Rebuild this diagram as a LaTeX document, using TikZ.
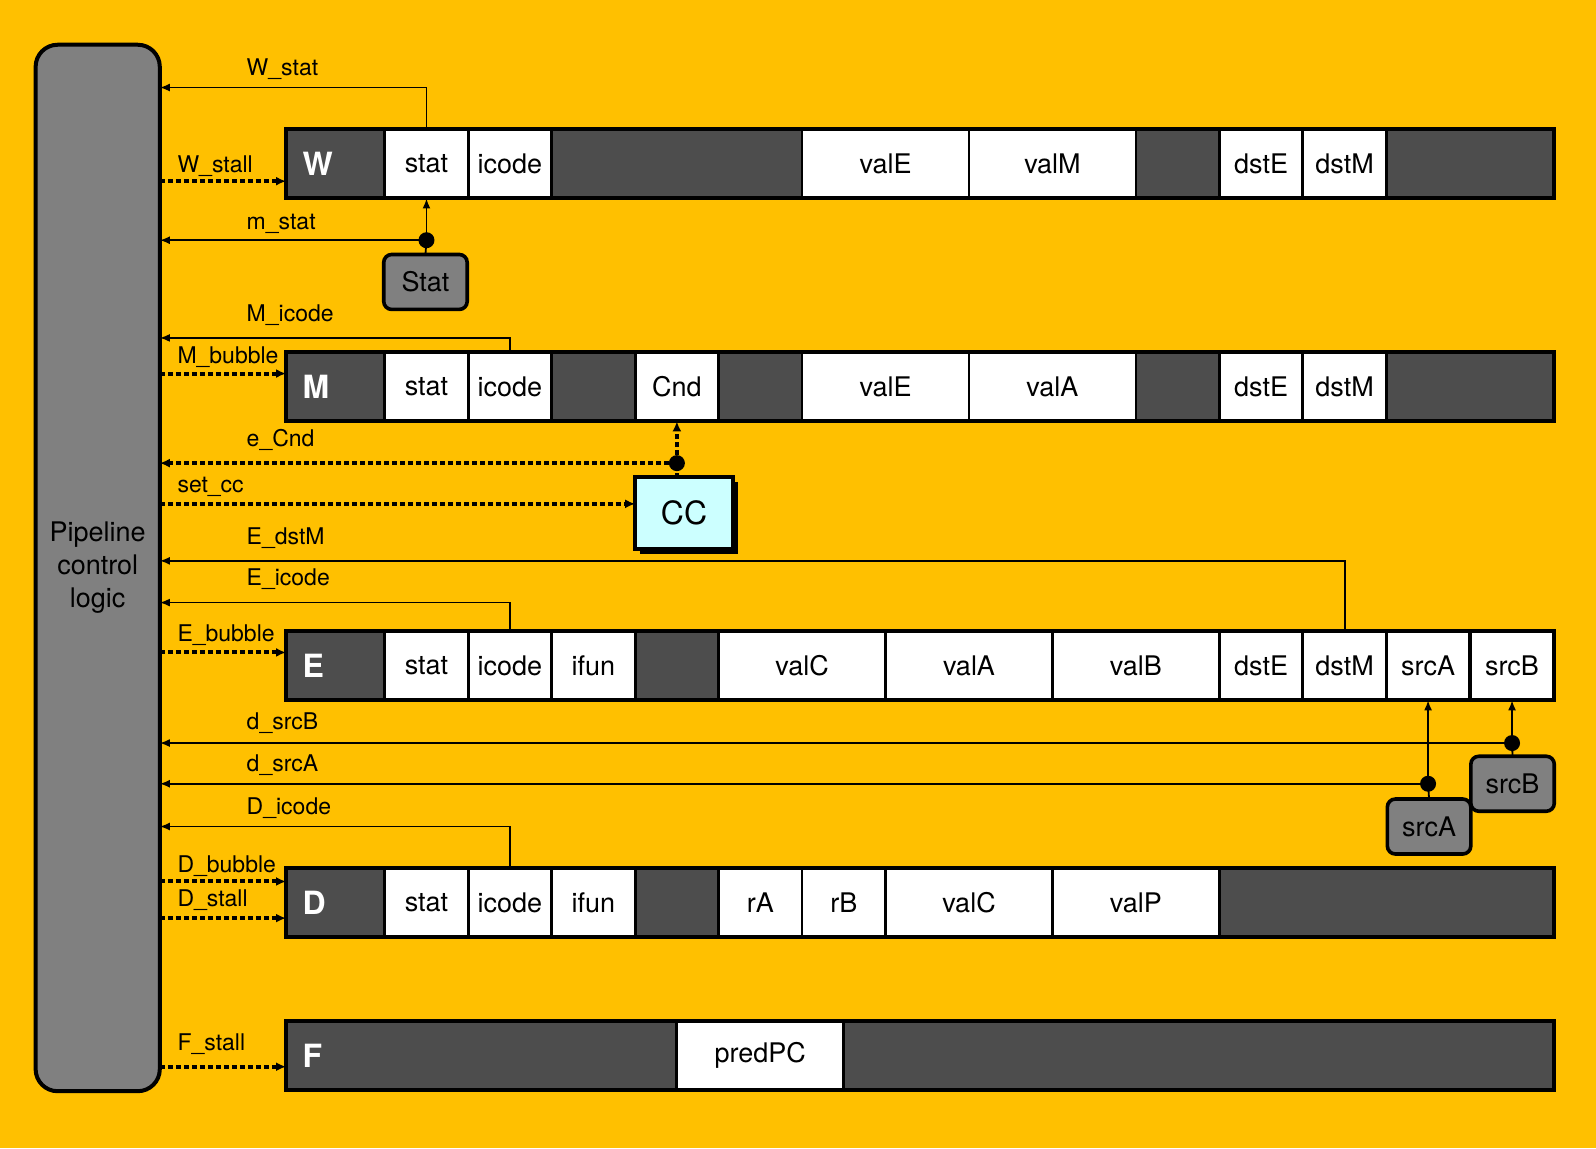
\documentclass[tikz,border=0pt]{standalone}
\usepackage{fontspec}
\setmainfont{TeX Gyre Heros}
\usetikzlibrary{arrows.meta,shadows}
\definecolor{bg}{RGB}{255,192,0}
\definecolor{darkcell}{RGB}{77,77,77}
\definecolor{midgray}{RGB}{128,128,128}
\definecolor{ccfill}{RGB}{204,255,255}
\begin{document}
\begin{tikzpicture}[x=0.509pt,y=-0.509pt,
 bar/.style={fill=darkcell, inner sep=0pt, outer sep=0pt, minimum width=634.2pt, minimum height=34.61pt},
 cell/.style={fill=white, draw=black, line width=1.4pt, inner sep=0pt, outer sep=0pt, minimum height=34.61pt, font=\fontsize{13.5}{16}\selectfont},
 c1/.style={cell, minimum width=41.74pt},
 c2/.style={cell, minimum width=83.48pt},
 stagelbl/.style={text=white, font=\fontsize{16}{19}\selectfont\bfseries, anchor=west, inner sep=0pt},
 proc/.style={fill=midgray, draw=black, line width=1.8pt, rounded corners=4pt, inner sep=0pt, outer sep=0pt, minimum width=41.74pt, minimum height=27.49pt, font=\fontsize{13.5}{16}\selectfont},
 sig/.style={draw=black, line width=0.9pt, -{Latex[length=5pt,width=4pt]}},
 plain/.style={draw=black, line width=0.9pt},
 ctl/.style={draw=black, line width=2pt, dash pattern=on 2.4pt off 1.6pt, -{Latex[length=5pt,width=4.5pt]}},
 ctlplain/.style={draw=black, line width=2pt, dash pattern=on 2.4pt off 1.6pt},
 siglbl/.style={anchor=base west, inner sep=0pt, font=\fontsize{11.5}{14}\selectfont},
 barline/.style={draw=black, line width=2pt}
]
\fill[bg] (0,0) rectangle (1568,1128);
\useasboundingbox (0,0) rectangle (1568,1128);

% Pipeline control logic
\node[fill=midgray, draw=black, line width=2pt, rounded corners=11pt, inner sep=0pt, outer sep=0pt,
  minimum width=62.1pt, minimum height=523.3pt, align=center,
  font=\fontsize{13.5}{16.5}\selectfont] (PCL) at (96,558) {Pipeline\\control\\logic};

% ---------- W row ----------
\node[bar] (Wbar) at (904,161) {};
\node[stagelbl] (Wlbl) at (297,161) {W};
\node[c1] (Wstat) at (419,161) {stat};
\node[c1] (Wicode) at (501,161) {icode};
\node[c2] (WvalE) at (870,161) {valE};
\node[c2] (WvalM) at (1034,161) {valM};
\node[c1] (WdstE) at (1239,161) {dstE};
\node[c1] (WdstM) at (1321,161) {dstM};
\draw[barline] (Wbar.north west) rectangle (Wbar.south east);

% ---------- M row ----------
\node[bar] (Mbar) at (904,380) {};
\node[stagelbl] (Mlbl) at (297,380) {M};
\node[c1] (Mstat) at (419,380) {stat};
\node[c1] (Micode) at (501,380) {icode};
\node[c1] (Mcnd) at (665,380) {Cnd};
\node[c2] (MvalE) at (870,380) {valE};
\node[c2] (MvalA) at (1034,380) {valA};
\node[c1] (MdstE) at (1239,380) {dstE};
\node[c1] (MdstM) at (1321,380) {dstM};
\draw[barline] (Mbar.north west) rectangle (Mbar.south east);

% ---------- E row ----------
\node[bar] (Ebar) at (904,654) {};
\node[stagelbl] (Elbl) at (297,654) {E};
\node[c1] (Estat) at (419,654) {stat};
\node[c1] (Eicode) at (501,654) {icode};
\node[c1] (Eifun) at (583,654) {ifun};
\node[c2] (EvalC) at (788,654) {valC};
\node[c2] (EvalA) at (952,654) {valA};
\node[c2] (EvalB) at (1116,654) {valB};
\node[c1] (EdstE) at (1239,654) {dstE};
\node[c1] (EdstM) at (1321,654) {dstM};
\node[c1] (EsrcA) at (1403,654) {srcA};
\node[c1] (EsrcB) at (1485.5,654) {srcB};
\draw[barline] (Ebar.north west) rectangle (Ebar.south east);

% ---------- D row ----------
\node[bar] (Dbar) at (904,887) {};
\node[stagelbl] (Dlbl) at (297,887) {D};
\node[c1] (Dstat) at (419,887) {stat};
\node[c1] (Dicode) at (501,887) {icode};
\node[c1] (Difun) at (583,887) {ifun};
\node[c1] (DrA) at (747,887) {rA};
\node[c1] (DrB) at (829,887) {rB};
\node[c2] (DvalC) at (952,887) {valC};
\node[c2] (DvalP) at (1116,887) {valP};
\draw[barline] (Dbar.north west) rectangle (Dbar.south east);

% ---------- F row ----------
\node[bar] (Fbar) at (904,1037) {};
\node[stagelbl] (Flbl) at (297,1037) {F};
\node[c2] (FpredPC) at (747,1037) {predPC};
\draw[barline] (Fbar.north west) rectangle (Fbar.south east);

% ---------- logic blocks ----------
\node[proc] (Stat) at (418,277) {Stat};
\node[fill=ccfill, draw=black, line width=2pt, inner sep=0pt, outer sep=0pt,
  minimum width=48.86pt, minimum height=35.63pt,
  drop shadow={shadow xshift=2.5pt, shadow yshift=-2.5pt, fill=black, opacity=1},
  font=\fontsize{16}{19}\selectfont] (CC) at (672,504) {CC};
\node[proc] (srcBn) at (1486,770) {srcB};
\node[proc] (srcAn) at (1404,812) {srcA};

% ---------- signals ----------
% W_stat
\draw[sig] (Wstat.north) |- (PCL.east |- 0,86);
\node[siglbl] (lWstat) at (242,74) {W\_stat};
% W_stall
\draw[ctl] (PCL.east |- 0,178) -- (Wbar.west |- 0,178);
\node[siglbl] (lWstall) at (174,169) {W\_stall};
% m_stat
\coordinate (jstat) at (Wstat.south |- 0,236);
\draw[plain] (Stat.north) -- (jstat);
\draw[sig] (jstat) -- (Wstat.south);
\draw[sig] (jstat) -- (PCL.east |- jstat);
\fill (jstat) circle (4pt);
\node[siglbl] (lmstat) at (242,225) {m\_stat};
% M_icode
\draw[sig] (Micode.north) |- (PCL.east |- 0,332);
\node[siglbl] (lMicode) at (242,316) {M\_icode};
% M_bubble
\draw[ctl] (PCL.east |- 0,367) -- (Mbar.west |- 0,367);
\node[siglbl] (lMbubble) at (174,357) {M\_bubble};
% e_Cnd
\coordinate (jcnd) at (Mcnd.south |- 0,455);
\draw[ctlplain] (CC.north -| jcnd) -- (jcnd);
\draw[ctl] (jcnd) -- (Mcnd.south);
\draw[ctl] (jcnd) -- (PCL.east |- jcnd);
\fill (jcnd) circle (4pt);
\node[siglbl] (leCnd) at (242,439) {e\_Cnd};
% set_cc
\draw[ctl] (PCL.east |- 0,495) -- (CC.west |- 0,495);
\node[siglbl] (lsetcc) at (174,484) {set\_cc};
% E_dstM
\draw[sig] (EdstM.north) |- (PCL.east |- 0,551);
\node[siglbl] (lEdstM) at (242,535) {E\_dstM};
% E_icode
\draw[sig] (Eicode.north) |- (PCL.east |- 0,592);
\node[siglbl] (lEicode) at (242,575) {E\_icode};
% E_bubble
\draw[ctl] (PCL.east |- 0,641) -- (Ebar.west |- 0,641);
\node[siglbl] (lEbubble) at (174,630) {E\_bubble};
% d_srcB
\coordinate (jB) at (EsrcB.south |- 0,730);
\draw[plain] (srcBn.north) -- (jB);
\draw[sig] (jB) -- (EsrcB.south);
\draw[sig] (jB) -- (PCL.east |- jB);
\fill (jB) circle (4pt);
\node[siglbl] (ldsrcB) at (242,717) {d\_srcB};
% d_srcA
\coordinate (jA) at (EsrcA.south |- 0,770);
\draw[plain] (srcAn.north) -- (jA);
\draw[sig] (jA) -- (EsrcA.south);
\draw[sig] (jA) -- (PCL.east |- jA);
\fill (jA) circle (4pt);
\node[siglbl] (ldsrcA) at (242,758) {d\_srcA};
% D_icode
\draw[sig] (Dicode.north) |- (PCL.east |- 0,812);
\node[siglbl] (lDicode) at (242,800) {D\_icode};
% D_bubble
\draw[ctl] (PCL.east |- 0,866) -- (Dbar.west |- 0,866);
\node[siglbl] (lDbubble) at (174,857) {D\_bubble};
% D_stall
\draw[ctl] (PCL.east |- 0,902) -- (Dbar.west |- 0,902);
\node[siglbl] (lDstall) at (174,891) {D\_stall};
% F_stall
\draw[ctl] (PCL.east |- 0,1048) -- (Fbar.west |- 0,1048);
\node[siglbl] (lFstall) at (174,1032) {F\_stall};
\end{tikzpicture}
\end{document}
